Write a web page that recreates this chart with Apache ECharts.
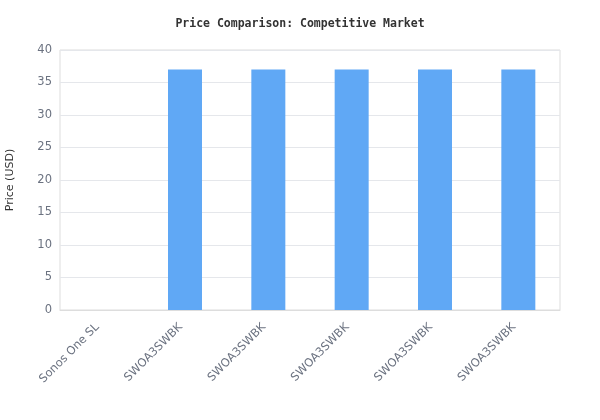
<!DOCTYPE html>
<html><head><meta charset="utf-8">
<script src="https://cdn.jsdelivr.net/npm/echarts@6/dist/echarts.min.js"></script>
<style>html,body{margin:0;padding:0;background:#fff}#c{width:600px;height:420px}</style>
</head><body><div id="c"></div>
<script>
const categories = ["Sonos One SL","SWOA3SWBK","SWOA3SWBK","SWOA3SWBK","SWOA3SWBK","SWOA3SWBK"];
const prices = [0, 36.99, 36.99, 36.99, 36.99, 36.99];
const chart = echarts.init(document.getElementById('c'), null, {renderer:'canvas'});
chart.setOption({
  animation:false,
  backgroundColor:'#fff',
  textStyle:{fontFamily:'DejaVu Sans'},
  title:{text:'Price Comparison: Competitive Market', left:'center', top:13,
    textStyle:{fontFamily:'DejaVu Sans Mono', fontWeight:'bold', fontSize:11.5, color:'#333'}},
  grid:{left:60, right:40, top:50, bottom:110, show:true, borderColor:'#ddd', borderWidth:1,
    containLabel:false, outerBoundsMode:'none'},
  xAxis:{type:'category', data:categories,
    axisLine:{lineStyle:{color:'#ddd'}}, axisTick:{show:false},
    axisLabel:{rotate:45, color:'#6b7280', fontSize:11.5, interval:0, margin:11, padding:[0,6,0,0], fontFamily:'DejaVu Sans'}},
  yAxis:{type:'value', min:0, max:40, interval:5, name:'Price (USD)', nameLocation:'middle', nameGap:44,
    nameTextStyle:{color:'#333', fontSize:11, fontFamily:'DejaVu Sans'},
    axisLine:{show:false}, axisTick:{show:false},
    axisLabel:{color:'#6b7280', fontSize:11.5, margin:8, fontFamily:'DejaVu Sans'},
    splitLine:{lineStyle:{color:'#e5e7eb'}}},
  series:[{type:'bar', data:prices, barWidth:34, itemStyle:{color:'#60a8f5'}}]
});
</script></body></html>
